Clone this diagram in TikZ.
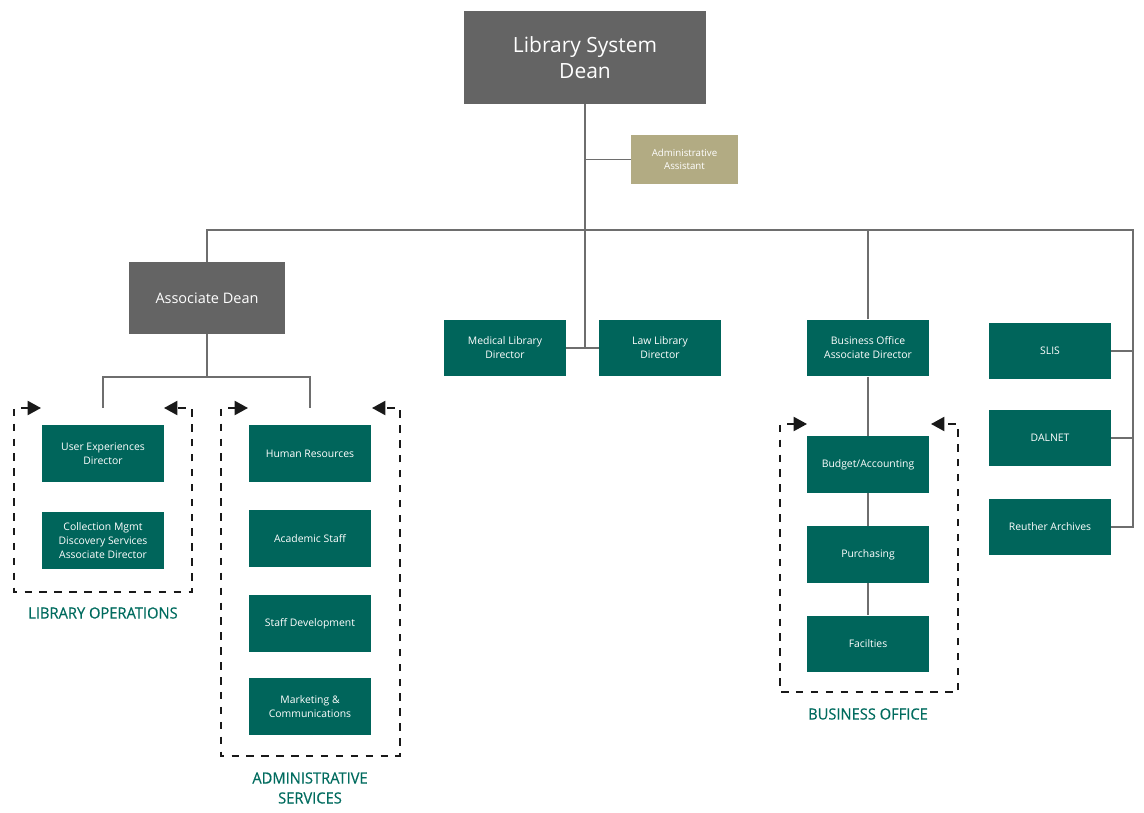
\documentclass[tikz,border=0pt]{standalone}
\usepackage{fontspec}
\setmainfont{Open Sans}
\newfontfamily\condfont[FakeStretch=0.95,FakeBold=0.4]{Open Sans}
\usetikzlibrary{arrows.meta,positioning,calc}
\definecolor{orgteal}{RGB}{0,101,91}
\definecolor{orggray}{RGB}{100,100,100}
\definecolor{orgkhaki}{RGB}{178,171,131}
\definecolor{orgline}{RGB}{110,110,110}
\definecolor{grouptext}{RGB}{0,107,94}

\tikzset{
  unitbox/.style={fill=orgteal,text=white,minimum width=3.05cm,minimum height=1.42cm,
    inner sep=1pt,align=center,font=\fontsize{7.4}{10}\selectfont},
  headbox/.style={fill=orggray,text=white,align=center,inner sep=1pt},
  helpbox/.style={fill=orgkhaki,text=white,align=center,inner sep=1pt,
    minimum width=2.68cm,minimum height=1.22cm,font=\fontsize{6.9}{9.2}\selectfont},
  link/.style={draw=orgline,line width=1.3pt},
  groupline/.style={draw=black!90,line width=1.4pt,dash pattern=on 5.3pt off 5.3pt,
    {Triangle[length=9.5pt,width=10pt]}-{Triangle[length=9.5pt,width=10pt]}},
  grouplabel/.style={text=grouptext,align=center,font=\condfont\fontsize{11}{14.2}\selectfont}
}

\begin{document}
\begin{tikzpicture}[x=0.025cm,y=-0.025cm]
\useasboundingbox (0,0) rectangle (1144,813);

% top of the tree
\node[headbox,minimum width=6.05cm,minimum height=2.33cm,font=\fontsize{14.9}{18.5}\selectfont] (dean) at (585,57.5) {Library System\\Dean};
\node[helpbox] (asst) at (684.5,159.5) {Administrative\\Assistant};
\node[headbox,minimum width=3.9cm,minimum height=1.8cm,font=\fontsize{10.3}{12}\selectfont] (assocdean) at (207,298) {Associate Dean};

% second level
\node[unitbox] (medlib) at (505,348) {Medical Library\\Director};
\node[unitbox] (lawlib) at (660,348) {Law Library\\Director};
\node[unitbox] (busoff) at (868,348) {Business Office\\Associate Director};
\node[unitbox] (slis) at (1050,351) {SLIS};
\node[unitbox] (dalnet) at (1050,438) {DALNET};
\node[unitbox] (reuther) at (1050,527) {Reuther Archives};

% library operations
\node[unitbox] (ux) at (103,453.5) {User Experiences\\Director};
\node[unitbox] (collmgmt) at (103,540.5) {Collection Mgmt\\Discovery Services\\Associate Director};

% administrative services
\node[unitbox] (hr) at (310,453.5) {Human Resources};
\node[unitbox] (acstaff) at (310,538.5) {Academic Staff};
\node[unitbox] (staffdev) at (310,623.5) {Staff Development};
\node[unitbox] (marcom) at (310,706.5) {Marketing \&\\Communications};

% business office
\node[unitbox] (budget) at (868,464.5) {Budget/Accounting};
\node[unitbox] (purch) at (868,554.5) {Purchasing};
\node[unitbox] (facil) at (868,644) {Facilties};

% group labels
\node[grouplabel] (libopslabel) at (103,613) {LIBRARY OPERATIONS};
\node[grouplabel] (adminlabel) at (310,788) {ADMINISTRATIVE\\SERVICES};
\node[grouplabel] (bizlabel) at (868,714) {BUSINESS OFFICE};

% helper points
\coordinate (railtop) at (1133,230);
\coordinate (split) at (207,377);
\coordinate (lo-nw) at (14,408);
\coordinate (lo-se) at (192,592);
\coordinate (as-nw) at (221,408);
\coordinate (as-se) at (400,756);
\coordinate (bo-nw) at (780,424);
\coordinate (bo-se) at (958,692);

% connectors
\draw[link] (dean.south) -- (dean.south |- medlib.east);
\draw[link] (medlib.east) -- (lawlib.west);
\draw[link] (dean.south |- asst.west) -- (asst.west);
\draw[link] (assocdean.north) |- (railtop) |- (reuther.east);
\draw[link] (busoff.north) -- (busoff.north |- railtop);
\draw[link] (slis.east) -- (slis.east -| railtop);
\draw[link] (dalnet.east) -- (dalnet.east -| railtop);
\draw[link] (assocdean.south) -- (split);
\draw[link] (ux.north |- lo-nw) |- (split) -| (hr.north |- as-nw);
\draw[link] (busoff.south) -- (budget.north);
\draw[link] (budget) -- (purch);
\draw[link] (purch) -- (facil);

% dashed groups
\draw[groupline] (41,408) -- (lo-nw) -- (lo-nw |- lo-se) -- (lo-se) -- (lo-se |- lo-nw) -- (164,408);
\draw[groupline] (248,408) -- (as-nw) -- (as-nw |- as-se) -- (as-se) -- (as-se |- as-nw) -- (372,408);
\draw[groupline] (807,424) -- (bo-nw) -- (bo-nw |- bo-se) -- (bo-se) -- (bo-se |- bo-nw) -- (931,424);
\end{tikzpicture}
\end{document}
